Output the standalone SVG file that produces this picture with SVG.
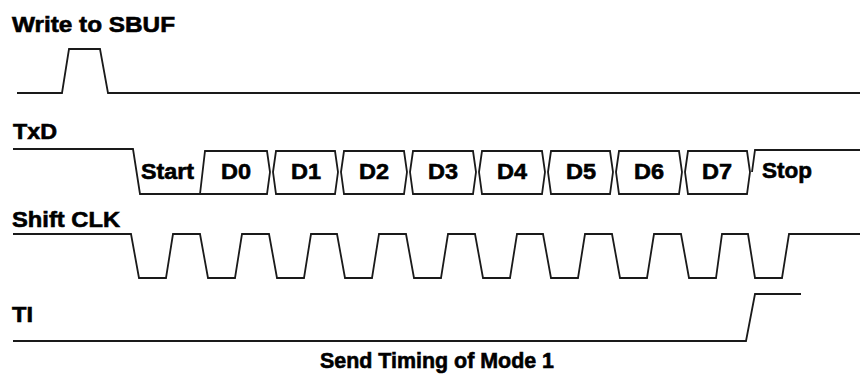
<svg xmlns="http://www.w3.org/2000/svg" width="860" height="379" viewBox="0 0 860 379">
<style>
.w{fill:none;stroke:#1a1a1a;stroke-width:1.8;stroke-linejoin:miter}
.lbl{font-family:"Liberation Sans",Arial,sans-serif;font-weight:bold;font-size:22px;fill:#000;stroke:#000;stroke-width:0.6}
.bx{font-family:"Liberation Sans",Arial,sans-serif;font-weight:bold;font-size:22px;fill:#000;stroke:#000;stroke-width:0.6;text-anchor:middle}
</style>
<rect width="860" height="379" fill="#fff"/>
<g id="write-sbuf">
<text class="lbl" x="12" y="32" textLength="163" lengthAdjust="spacingAndGlyphs">Write to SBUF</text>
<path class="w" d="M17,93 L62,93 L69,49 L100,49 L108,93 L860,93"/>
</g>
<g id="txd">
<text class="lbl" x="13" y="139" textLength="44" lengthAdjust="spacingAndGlyphs">TxD</text>
<path class="w" d="M13,149 L133,149 L140,194 L200,194"/>
<path class="w" d="M200,194 L205,151 L267,151 L270,172 L267,194 L200,194"/>
<path class="w" d="M273,172 L276,151 L335,151 L338,172 L335,194 L276,194 Z"/>
<path class="w" d="M341,172 L344,151 L404,151 L407,172 L404,194 L344,194 Z"/>
<path class="w" d="M410,172 L413,151 L473,151 L476,172 L473,194 L413,194 Z"/>
<path class="w" d="M479,172 L482,151 L542,151 L545,172 L542,194 L482,194 Z"/>
<path class="w" d="M548,172 L551,151 L610,151 L613,172 L610,194 L551,194 Z"/>
<path class="w" d="M616,172 L619,151 L679,151 L682,172 L679,194 L619,194 Z"/>
<path class="w" d="M685,172 L688,151 L747,151 L750,172 L747,194 L688,194 Z"/>
<path class="w" d="M752,172 L755,150 L860,150"/>
<text class="lbl" x="141" y="179" textLength="53" lengthAdjust="spacingAndGlyphs">Start</text>
<text class="bx" x="236" y="179" textLength="30" lengthAdjust="spacingAndGlyphs">D0</text>
<text class="bx" x="306" y="179" textLength="30" lengthAdjust="spacingAndGlyphs">D1</text>
<text class="bx" x="374" y="179" textLength="30" lengthAdjust="spacingAndGlyphs">D2</text>
<text class="bx" x="443" y="179" textLength="30" lengthAdjust="spacingAndGlyphs">D3</text>
<text class="bx" x="512" y="179" textLength="30" lengthAdjust="spacingAndGlyphs">D4</text>
<text class="bx" x="581" y="179" textLength="30" lengthAdjust="spacingAndGlyphs">D5</text>
<text class="bx" x="649" y="179" textLength="30" lengthAdjust="spacingAndGlyphs">D6</text>
<text class="bx" x="717" y="179" textLength="30" lengthAdjust="spacingAndGlyphs">D7</text>
<text class="lbl" x="762" y="178" textLength="50" lengthAdjust="spacingAndGlyphs">Stop</text>
</g>
<g id="shift-clk">
<text class="lbl" x="12" y="227" textLength="108" lengthAdjust="spacingAndGlyphs">Shift CLK</text>
<path class="w" d="M13,234 L131,234 L139,278 L166,278 L173,234 L200,234 L208,278 L235,278 L242,234 L269,234 L277,278 L304,278 L311,234 L337,234 L345,278 L372,278 L379,234 L406,234 L414,278 L441,278 L448,234 L475,234 L483,278 L510,278 L517,234 L543,234 L551,278 L578,278 L585,234 L612,234 L620,278 L647,278 L654,234 L681,234 L689,278 L716,278 L722,234 L748,234 L755,278 L782,278 L789,234 L860,234"/>
</g>
<g id="ti">
<text class="lbl" x="12" y="322" textLength="21" lengthAdjust="spacingAndGlyphs">TI</text>
<path class="w" d="M13,341 L746,341 L755,294 L801,294"/>
</g>
<text class="lbl" x="320" y="368" textLength="234" lengthAdjust="spacingAndGlyphs">Send Timing of Mode 1</text>
</svg>
